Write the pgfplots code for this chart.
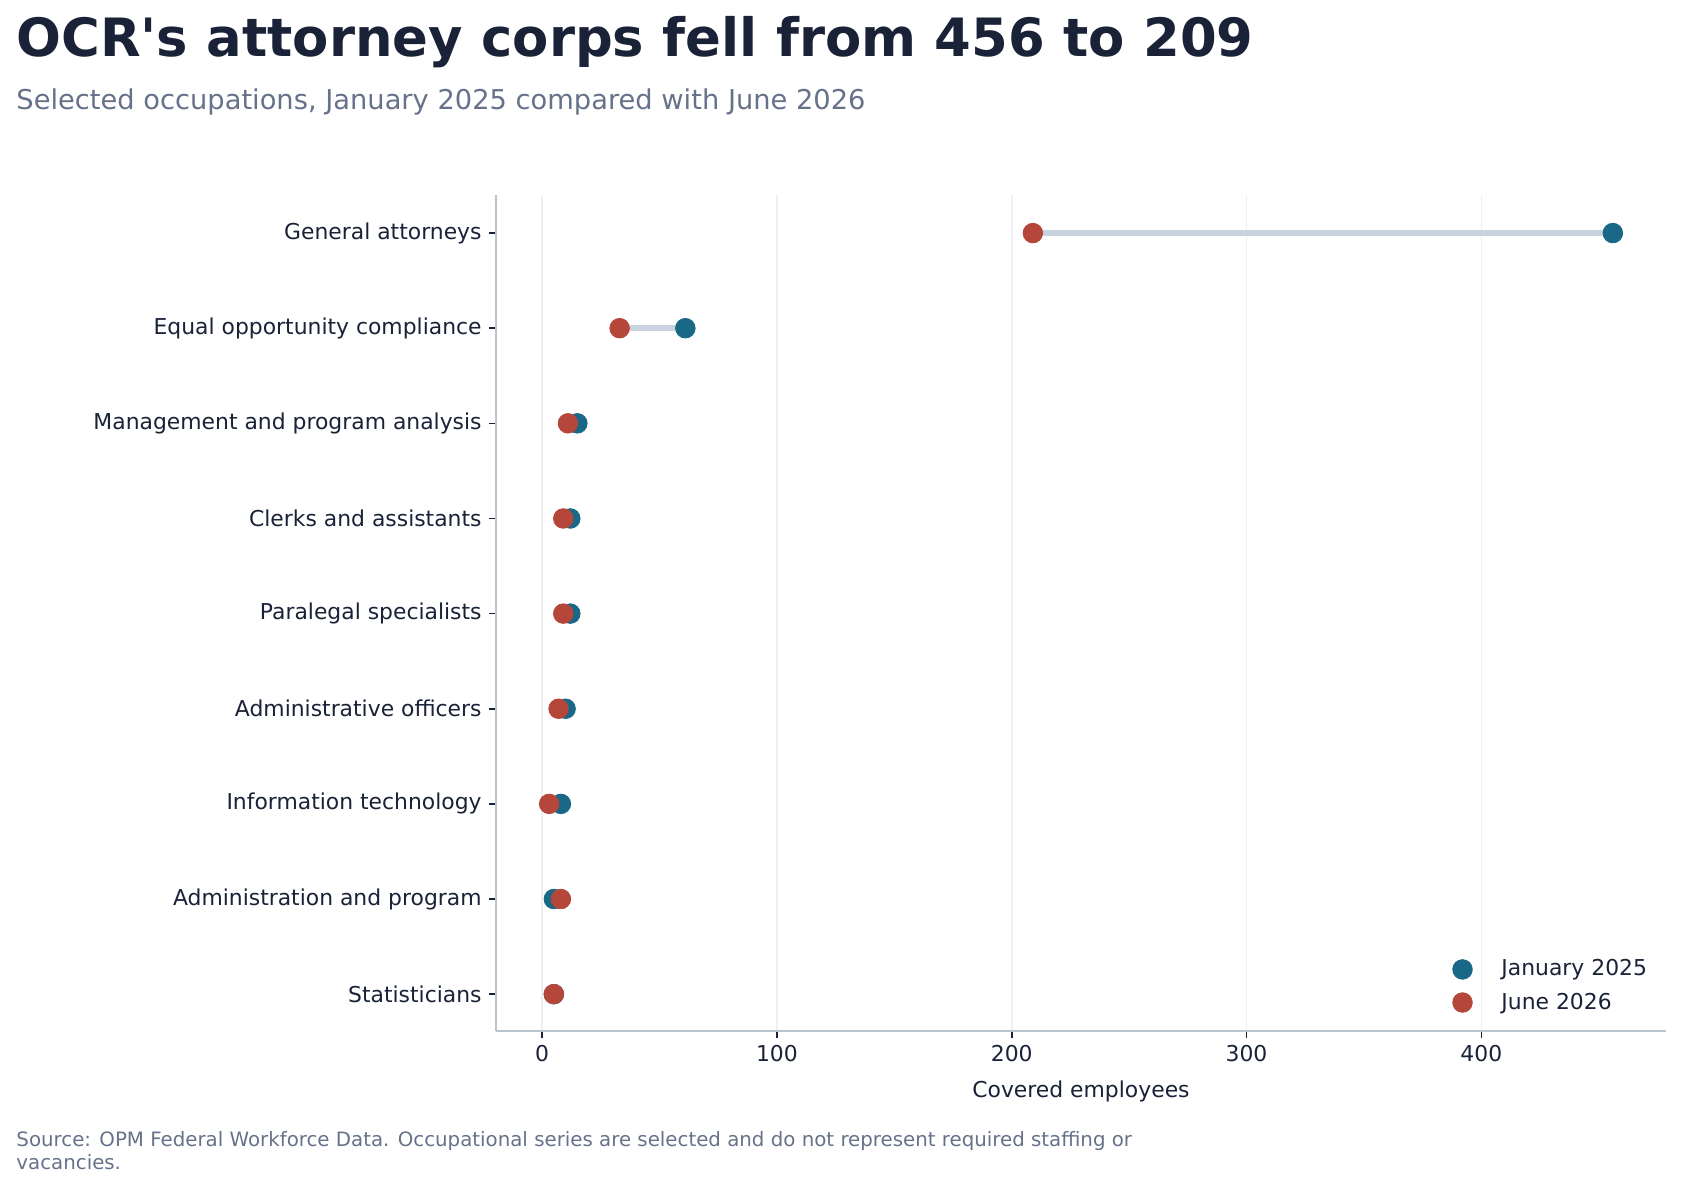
\documentclass[border=0pt]{standalone}
\usepackage{fontspec}
\setmainfont{DejaVu Sans}
\newfontfamily\titlefont{DejaVu Sans}[Ligatures=TeXOff]
\usepackage{pgfplots}
\pgfplotsset{compat=1.18}

\definecolor{ink}{HTML}{1A2238}
\definecolor{muted}{HTML}{66728A}
\definecolor{spine}{HTML}{B9C4D0}
\definecolor{gridc}{HTML}{ECEFF3}
\definecolor{seg}{HTML}{C9D3DF}
\definecolor{jan}{HTML}{1A6887}
\definecolor{jun}{HTML}{B4473A}

% idx: 0 = bottom row (Statisticians), 8 = top row (General attorneys)
\pgfplotstableread{
idx jan jun
8 456 209
7 61 33
6 15 11
5 12 9
4 12 9
3 10 7
2 8 3
1 5 8
0 5 5
}\occ

\begin{document}
\begin{tikzpicture}
\path[use as bounding box] (0pt,0pt) rectangle (807.84pt,-572.16pt);

\node[anchor=base west, inner sep=0pt, text=ink,
      font=\titlefont\fontsize{25.35}{30}\selectfont\bfseries] at (7.7pt,-27.2pt)
  {OCR's attorney corps fell from 456 to 209};
\node[anchor=base west, inner sep=0pt, text=muted,
      font=\fontsize{13.1}{16}\selectfont] at (7.7pt,-52.8pt)
  {Selected occupations, January 2025 compared with June 2026};
\node[anchor=base west, inner sep=0pt, text=muted,
      font=\fontsize{9.5}{11}\selectfont] at (7.7pt,-550.5pt)
  {Source: OPM Federal Workforce Data. Occupational series are selected and do not represent required staffing or};
\node[anchor=base west, inner sep=0pt, text=muted,
      font=\fontsize{9.5}{11}\selectfont] at (7.7pt,-561.5pt)
  {vacancies.};

\begin{axis}[
  at={(238.08pt,-495.0pt)}, anchor=south west,
  scale only axis, width=561.6pt, height=401.4pt,
  xmin=-19.65, xmax=478.65, ymin=-0.39, ymax=8.4,
  axis x line*=bottom, axis y line*=left,
  axis line style={spine, line width=0.8pt},
  xtick={0,100,200,300,400},
  ytick={0,...,8},
  yticklabels={Statisticians, Administration and program, Information technology,
    Administrative officers, Paralegal specialists, Clerks and assistants,
    Management and program analysis, Equal opportunity compliance, General attorneys},
  xmajorgrids, major grid style={gridc, line width=0.8pt},
  tick style={ink, line width=0.8pt}, major tick length=3.4pt, tick align=outside,
  ticklabel style={font=\fontsize{10.5}{12}\selectfont, text=ink},
  /pgf/number format/assume math mode=true,
  xlabel={Covered employees},
  xlabel style={font=\fontsize{10.5}{12}\selectfont, text=ink, yshift=-2pt},
  legend style={draw=none, fill=none, at={(0.812,0.096)}, anchor=north west,
    font=\fontsize{10.5}{12}\selectfont, text=ink, row sep=2.6pt, column sep=12pt},
  legend cell align=left,
  clip=false,
]
\addplot[seg, line width=3pt, unbounded coords=jump, forget plot] coordinates {
  (456,8) (209,8) (nan,nan)
  (61,7) (33,7) (nan,nan)
  (15,6) (11,6) (nan,nan)
  (12,5) (9,5) (nan,nan)
  (12,4) (9,4) (nan,nan)
  (10,3) (7,3) (nan,nan)
  (8,2) (3,2) (nan,nan)
  (5,1) (8,1) (nan,nan)
  (5,0) (5,0)
};
\addplot[only marks, mark=*, mark size=4.7pt, color=jan, mark options={draw=jan, fill=jan}]
  table[x=jan, y=idx] {\occ};
\addlegendentry{January 2025}
\addplot[only marks, mark=*, mark size=4.7pt, color=jun, mark options={draw=jun, fill=jun}]
  table[x=jun, y=idx] {\occ};
\addlegendentry{June 2026}
\end{axis}
\end{tikzpicture}
\end{document}
